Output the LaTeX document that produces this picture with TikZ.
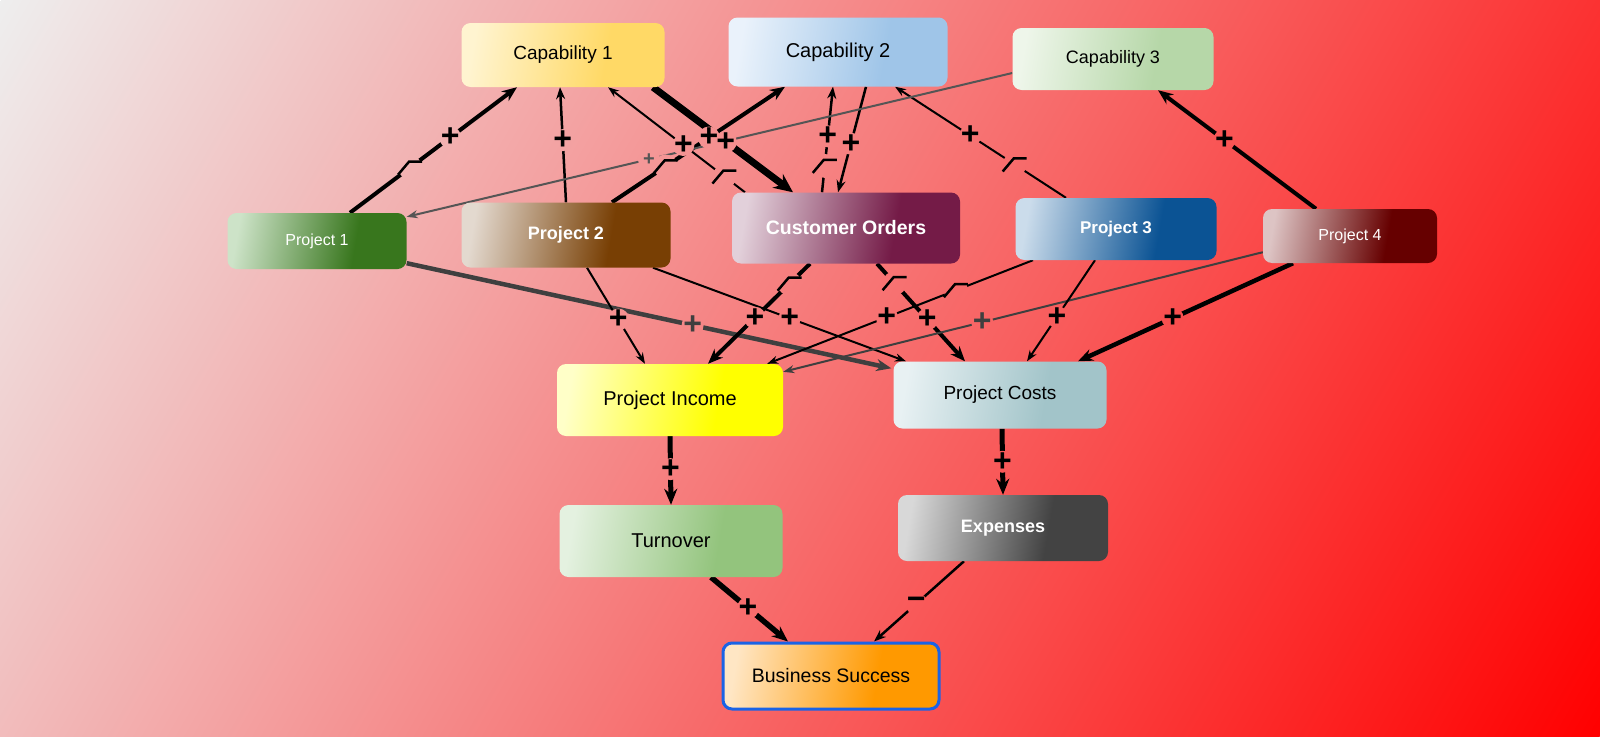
\documentclass[tikz,border=0pt]{standalone}
\usepackage{fontspec}
\setmainfont{Liberation Sans}
\usetikzlibrary{arrows.meta,calc}
\definecolor{bgA}{HTML}{EEEEEE}
\definecolor{bgB}{HTML}{FF0000}
\definecolor{c1A}{HTML}{FFF4D0}\definecolor{c1B}{HTML}{FFD966}
\definecolor{c2A}{HTML}{EAF2FB}\definecolor{c2B}{HTML}{9FC5E8}
\definecolor{c3A}{HTML}{EEF6EA}\definecolor{c3B}{HTML}{B6D7A8}
\definecolor{p1A}{HTML}{CDE3C8}\definecolor{p1B}{HTML}{38761D}
\definecolor{p2A}{HTML}{E3D9CF}\definecolor{p2B}{HTML}{783F04}
\definecolor{coA}{HTML}{E2D0DA}\definecolor{coB}{HTML}{741B47}
\definecolor{p3A}{HTML}{CBDCEB}\definecolor{p3B}{HTML}{0B5394}
\definecolor{p4A}{HTML}{DDC4C4}\definecolor{p4B}{HTML}{660000}
\definecolor{piA}{HTML}{FFFFC8}\definecolor{piB}{HTML}{FFFF00}
\definecolor{pcA}{HTML}{E8F1F3}\definecolor{pcB}{HTML}{A2C4C9}
\definecolor{tuA}{HTML}{E4F1E0}\definecolor{tuB}{HTML}{93C47D}
\definecolor{exA}{HTML}{D8D8D8}\definecolor{exB}{HTML}{434343}
\definecolor{bsA}{HTML}{FFE6C4}\definecolor{bsB}{HTML}{FF9900}
\definecolor{bsline}{HTML}{1A63E6}
\definecolor{gryA}{HTML}{555555}
\definecolor{gryB}{HTML}{3F3F3F}
\colorlet{bxA}{white}\colorlet{bxB}{black}
\pgfdeclarehorizontalshading{bgshade}{100bp}{color(0bp)=(bgA); color(100bp)=(bgB)}
\pgfdeclarehorizontalshading[bxA,bxB]{bxshade}{100bp}{color(0bp)=(bxA); color(25bp)=(bxA); color(62bp)=(bxB); color(100bp)=(bxB)}
\pgfdeclarelayer{front}
\pgfsetlayers{main,front}
% background gradient, top left to bottom right
\newcommand\bgfill{\pgftransformshift{\pgfpointxy{800}{368}}\pgftransformrotate{-30}%
  \pgftransformxscale{17.47}\pgftransformyscale{15}\pgflowlevelsynccm
  \pgftext{\pgfuseshading{bgshade}}}
\newcommand\bgpatch[2]{\begin{scope}\clip (#1) circle (#2);\bgfill\end{scope}}
\tikzset{
  bx/.style 2 args={rounded corners=9pt,inner sep=0pt,shade,shading=bxshade,shading angle=-10,
    /utils/exec={\colorlet{bxA}{#1}\colorlet{bxB}{#2}}},
  dk/.style={text=white},
  ln1/.style={line width=2pt,-{Stealth[length=11pt,width=8pt]}},
  ln2/.style={line width=2.5pt,-{Stealth[length=12pt,width=9pt]}},
  ln3/.style={line width=4pt,-{Stealth[length=15pt,width=12pt]}},
  ln4/.style={line width=5pt,-{Stealth[length=16pt,width=13pt]}},
  ln5/.style={line width=7pt,-{Stealth[length=19pt,width=17pt]}},
  sgn/.style={font=\fontsize{32}{32}\selectfont\bfseries,inner sep=0pt},
  dly/.pic={\draw[line width=2.5pt] (-12,7) -- (-1,-6) -- (12,-6);}
}
\begin{document}
\begin{tikzpicture}[x=1pt,y=-1pt]
\useasboundingbox (0,0) rectangle (1600,736);
\begin{scope}\clip (0,0) rectangle (1600,736);\bgfill\end{scope}
% factors
\begin{pgfonlayer}{front}
\node[bx={c1A}{c1B},minimum width=203,minimum height=64,font=\fontsize{19}{22}\selectfont] (cap1) at (563,55) {Capability 1};
\node[bx={c2A}{c2B},minimum width=219,minimum height=69,font=\fontsize{20}{22}\selectfont] (cap2) at (838,52) {Capability 2};
\node[bx={c3A}{c3B},minimum width=201,minimum height=62,font=\fontsize{18}{22}\selectfont] (cap3) at (1113,59) {Capability 3};
\node[bx={p1A}{p1B},dk,minimum width=179,minimum height=56,font=\fontsize{16}{20}\selectfont] (p1) at (317,241) {Project 1};
\node[bx={p2A}{p2B},dk,minimum width=209,minimum height=65,font=\fontsize{18}{22}\selectfont\bfseries] (p2) at (566,235) {Project 2};
\node[bx={coA}{coB},dk,minimum width=228,minimum height=71,font=\fontsize{19.5}{22}\selectfont\bfseries] (co) at (846,228) {Customer Orders};
\node[bx={p3A}{p3B},dk,minimum width=201,minimum height=62,font=\fontsize{17}{20}\selectfont\bfseries] (p3) at (1116,229) {Project 3};
\node[bx={p4A}{p4B},dk,minimum width=174,minimum height=54,font=\fontsize{16}{20}\selectfont] (p4) at (1350,236) {Project 4};
\node[bx={piA}{piB},minimum width=226,minimum height=72,font=\fontsize{20}{22}\selectfont] (pinc) at (670,400) {Project Income};
\node[bx={pcA}{pcB},minimum width=213,minimum height=67,font=\fontsize{19}{22}\selectfont] (pcost) at (1000,395) {Project Costs};
\node[bx={tuA}{tuB},minimum width=223,minimum height=72,font=\fontsize{20}{22}\selectfont] (turn) at (671,541) {Turnover};
\node[bx={exA}{exB},dk,minimum width=210,minimum height=66,font=\fontsize{18}{22}\selectfont\bfseries] (exp) at (1003,528) {Expenses};
\node[bx={bsA}{bsB},draw=bsline,line width=3pt,minimum width=216,minimum height=66,font=\fontsize{19.5}{22}\selectfont] (bs) at (831,676) {Business Success};
\end{pgfonlayer}
% links
\draw[ln3] ([shift={(33,0)}]p1.north) -- ([shift={(-46,0)}]cap1.south) coordinate[pos=.6] (s1) coordinate[pos=.36] (d1);
\draw[ln2] (p2.north) -- ([shift={(-3,0)}]cap1.south) coordinate[pos=.54] (s2);
\draw[ln1] ([shift={(-101,0)}]co.north) -- ([shift={(45,0)}]cap1.south) coordinate[pos=.45] (s3) coordinate[pos=.15] (d3);
\draw[ln5] ([shift={(90,0)}]cap1.south) -- ([shift={(-53,0)}]co.north) coordinate[pos=.52] (s4);
\draw[ln3] ([shift={(46,0)}]p2.north) -- ([shift={(-53,0)}]cap2.south) coordinate[pos=.56] (s5) coordinate[pos=.31] (d5);
\draw[ln2] ([shift={(-24,0)}]co.north) -- ([shift={(-5,0)}]cap2.south) coordinate[pos=.53] (s6) coordinate[pos=.25] (d6);
\draw[ln2] ([shift={(28,0)}]cap2.south) -- ([shift={(-8,0)}]co.north) coordinate[pos=.54] (s7);
\draw[ln1] ([shift={(-50,0)}]p3.north) -- ([shift={(57,0)}]cap2.south) coordinate[pos=.56] (s8) coordinate[pos=.3] (d8);
\draw[ln1,gryA] ([shift={(0,14)}]cap3.west) -- ([shift={(0,4)}]p1.north east) coordinate[pos=.6] (s9);
\draw[ln3] ([shift={(-34,0)}]p4.north) -- ([shift={(45,0)}]cap3.south) coordinate[pos=.58] (s10);
\draw[ln3,gryB,line width=4.5pt] ([shift={(0,-6)}]p1.south east) -- ([shift={(-2,7)}]pcost.north west) coordinate[pos=.59] (s11);
\draw[ln1] ([shift={(21,0)}]p2.south) -- ([shift={(-25,0)}]pinc.north) coordinate[pos=.54] (s12);
\draw[ln1] ([shift={(87,0)}]p2.south) -- ([shift={(-94,0)}]pcost.north) coordinate[pos=.54] (s13);
\draw[ln3] ([shift={(-36,0)}]co.south) -- ([shift={(38,0)}]pinc.north) coordinate[pos=.54] (s14) coordinate[pos=.2] (d14);
\draw[ln3] ([shift={(31,0)}]co.south) -- ([shift={(-35,0)}]pcost.north) coordinate[pos=.57] (s15) coordinate[pos=.2] (d15);
\draw[ln1] ([shift={(-83,0)}]p3.south) -- ([shift={(-16,0)}]pinc.north east) coordinate[pos=.55] (s16) coordinate[pos=.29] (d16);
\draw[ln1,gryB] ([shift={(0,-11)}]p4.south west) -- ([shift={(0,8)}]pinc.north east) coordinate[pos=.585] (s17);
\draw[ln1] ([shift={(-21,0)}]p3.south) -- ([shift={(27,0)}]pcost.north) coordinate[pos=.56] (s18);
\draw[ln3,line width=4.5pt] ([shift={(-57,0)}]p4.south) -- ([shift={(78,0)}]pcost.north) coordinate[pos=.56] (s19);
\draw[ln4] (pinc.south) -- (turn.north) coordinate[pos=.48] (s20);
\draw[ln4] ([shift={(2,0)}]pcost.south) -- (exp.north) coordinate[pos=.5] (s21);
\draw[ln4,line width=5.5pt] ([shift={(40,0)}]turn.south) -- ([shift={(-43,0)}]bs.north) coordinate[pos=.48] (s22);
\draw[ln2] ([shift={(-39,0)}]exp.south) -- ([shift={(43,0)}]bs.north) coordinate[pos=.53] (s23);
% signs
\foreach \c in {s1,s2,s3,s4,s5,s6,s7,s8,s9,s10,s11,s12,s13,s14,s15,s16,s17,s18,s19,s20,s21,s22,s23}
  \bgpatch{\c}{11};
\foreach \c in {s1,s2,s3,s4,s5,s6,s7,s8,s10,s12,s13,s14,s15,s16,s18,s19,s20,s21,s22}
  \node[sgn] at (\c) {+};
\node[sgn,gryB] at (s11) {+};
\node[sgn,gryB] at (s17) {+};
\node[sgn,gryA,font=\fontsize{20}{20}\selectfont\bfseries] at (s9) {+};
\node[sgn] at (s23) {−};
% delays
\foreach \c in {d1,d3,d5,d6,d8,d14,d15,d16} {
  \bgpatch{\c}{12}
  \pic at (\c) {dly};
}
\end{tikzpicture}
\end{document}
